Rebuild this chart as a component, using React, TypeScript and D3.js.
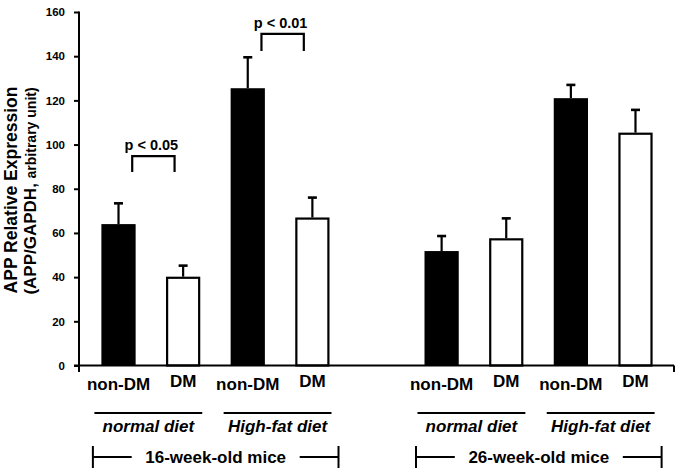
import * as d3 from "d3";
import { useEffect, useRef } from "react";

const slots = ["0", "1", "2", "3", "4", "5", "6", "7", "8"];
const barSlots = ["0", "1", "2", "3", "5", "6", "7", "8"];
const groups = ["non-DM", "DM", "non-DM", "DM", "non-DM", "DM", "non-DM", "DM"];
const means = [64, 40.2, 125.5, 67, 51.8, 57.6, 121, 105.4];
const errors = [9.4, 5, 14, 9, 6.8, 9, 6, 10.3];
const yTicks = [0, 20, 40, 60, 80, 100, 120, 140, 160];

const diets = ["normal diet", "High-fat diet", "normal diet", "High-fat diet"];
const dietSlots = [
  ["0", "1"],
  ["2", "3"],
  ["5", "6"],
  ["7", "8"],
];
const ages = ["16-week-old mice", "26-week-old mice"];
const ageSlots = [
  ["0", "3"],
  ["5", "8"],
];

const pLabels = ["p < 0.05", "p < 0.01"];
const pSlots = [
  ["0", "1"],
  ["2", "3"],
];
const pTop = [94.8, 150.1];
const pBottom = [87.6, 142.4];

const width = 676;
const height = 468;
const font = "'Liberation Sans', Arial, Helvetica, sans-serif";

const App = () => {
  const gy = useRef<SVGGElement>(null);

  const x = d3
    .scaleBand()
    .domain(slots)
    .range([82, 672])
    .paddingInner(0.47)
    .paddingOuter(0.3);

  const y = d3.scaleLinear().domain([0, 160]).range([365.5, 12]);
  const bw = x.bandwidth();

  useEffect(() => {
    const g = d3.select(gy.current as SVGGElement);
    g.call(d3.axisLeft(y).tickValues(yTicks).tickSize(5).tickPadding(9))
      .call((g) => g.select(".domain").remove())
      .call((g) => g.selectAll(".tick line").attr("stroke", "#000").attr("stroke-width", 2))
      .call((g) =>
        g
          .selectAll(".tick text")
          .attr("fill", "#000")
          .style("font-family", font)
          .style("font-size", "11.5px")
          .style("font-weight", "bold")
      );
  }, [y]);

  return (
    <svg
      width={width}
      height={height}
      viewBox={`0 0 ${width} ${height}`}
      style={{ position: "fixed", left: 0, top: 0, background: "#fff" }}
      fontFamily={font}
      fontWeight="bold"
    >
      {/* bars */}
      {barSlots.map((s, i) => {
        const dm = groups[i] === "DM";
        return dm ? (
          <rect
            key={s}
            x={x(s)! + 1.1}
            y={y(means[i]) + 1.1}
            width={bw - 2.2}
            height={y(0) - y(means[i]) - 1.1}
            fill="#fff"
            stroke="#000"
            strokeWidth={2.2}
          />
        ) : (
          <rect
            key={s}
            x={x(s)}
            y={y(means[i])}
            width={bw}
            height={y(0) - y(means[i])}
            fill="#000"
          />
        );
      })}

      {/* error bars */}
      {barSlots.map((s, i) => {
        const cx = x(s)! + bw / 2;
        const top = y(means[i] + errors[i]);
        return (
          <g key={s} stroke="#000">
            <line x1={cx} x2={cx} y1={y(means[i])} y2={top} strokeWidth={2.2} />
            <line x1={cx - 4.5} x2={cx + 4.5} y1={top} y2={top} strokeWidth={2.6} />
          </g>
        );
      })}

      {/* axes lines */}
      <line x1={79} x2={79} y1={y(160) - 0.5} y2={372} stroke="#000" strokeWidth={2} />
      <line x1={74} x2={674} y1={y(0)} y2={y(0)} stroke="#000" strokeWidth={2} />
      <line x1={674} x2={674} y1={y(0)} y2={372} stroke="#000" strokeWidth={2} />
      <g ref={gy} transform="translate(79,0)" />

      {/* significance */}
      {pLabels.map((p, i) => {
        const x1 = x(pSlots[i][0])! + bw * 0.9;
        const x2 = x(pSlots[i][1])! + bw * 0.25;
        const t = y(pTop[i]);
        const b = y(pBottom[i]);
        return (
          <g key={p}>
            <path
              d={`M${x1},${b}V${t}H${x2}V${b}`}
              fill="none"
              stroke="#000"
              strokeWidth={2.2}
            />
            <text x={(x1 + x2) / 2 - 2} y={t - 6} textAnchor="middle" fontSize={14.5}>
              {p}
            </text>
          </g>
        );
      })}

      {/* category labels */}
      {barSlots.map((s, i) => (
        <text
          key={s}
          x={x(s)! + bw / 2}
          y={groups[i] === "DM" ? 387 : 390}
          textAnchor="middle"
          fontSize={17}
        >
          {groups[i]}
        </text>
      ))}

      {/* diet labels */}
      {diets.map((d, i) => {
        const x1 = x(dietSlots[i][0])! - 7;
        const x2 = x(dietSlots[i][1])! + bw + 2;
        return (
          <g key={i}>
            <line x1={x1} x2={x2} y1={413} y2={413} stroke="#000" strokeWidth={2} />
            <text
              x={(x1 + x2) / 2}
              y={432}
              textAnchor="middle"
              fontSize={17}
              fontStyle="italic"
            >
              {d}
            </text>
          </g>
        );
      })}

      {/* age brackets */}
      {ages.map((a, i) => {
        const x1 = x(ageSlots[i][0])! - 8.5;
        const x2 = x(ageSlots[i][1])! + bw + 9;
        const cx = (x1 + x2) / 2;
        return (
          <g key={a} stroke="#000" strokeWidth={2}>
            <line x1={x1} x2={x1} y1={446} y2={470} />
            <line x1={x2} x2={x2} y1={446} y2={470} />
            <line x1={x1} x2={cx - 84} y1={457} y2={457} />
            <line x1={cx + 84} x2={x2} y1={457} y2={457} />
            <text x={cx} y={463} textAnchor="middle" fontSize={17} stroke="none">
              {a}
            </text>
          </g>
        );
      })}

      {/* y title */}
      <text transform="translate(17,190) rotate(-90)" textAnchor="middle" fontSize={17.5}>
        APP Relative Expression
      </text>
      <text transform="translate(36,191) rotate(-90)" textAnchor="middle">
        <tspan fontSize={17}>(APP/GAPDH, </tspan>
        <tspan fontSize={14}>arbitrary unit)</tspan>
      </text>
    </svg>
  );
};

export default App;
